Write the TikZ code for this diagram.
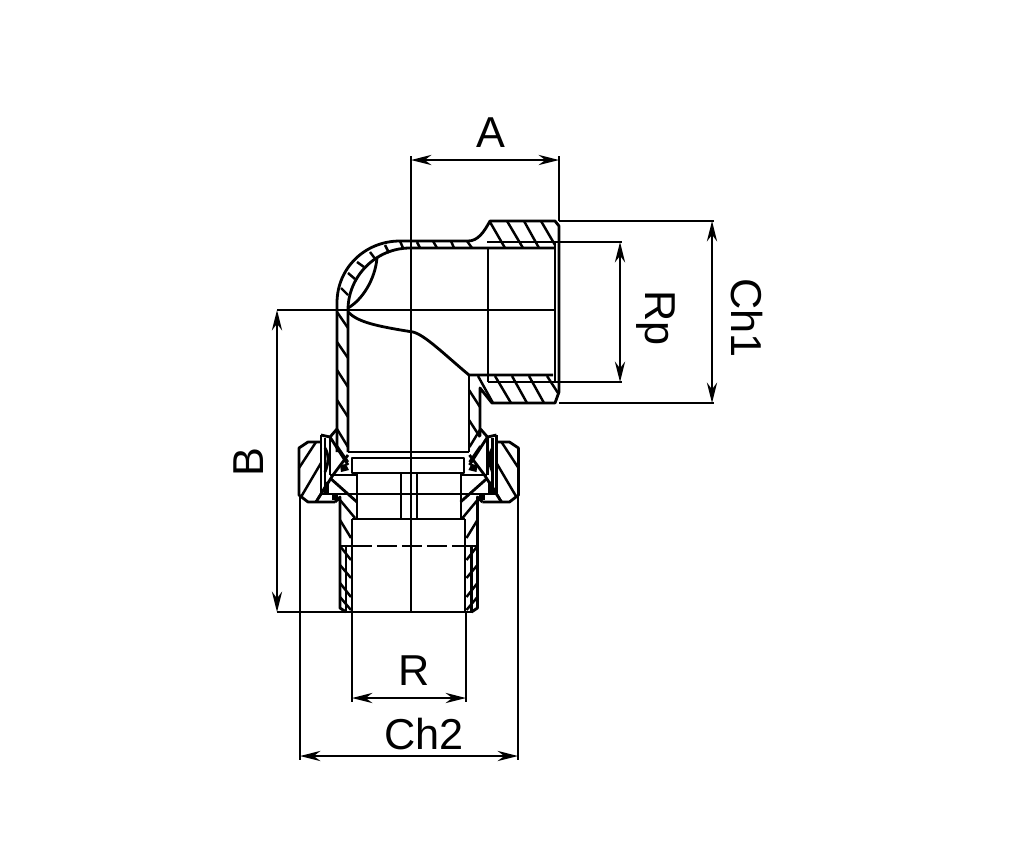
\documentclass[tikz,border=0pt]{standalone}
\usepackage{fontspec}
\setmainfont{Liberation Sans}
\usetikzlibrary{arrows.meta}
\tikzset{
  part/.style={line width=0.8pt, line join=round},
  hatch/.style={line width=0.7pt},
  dimline/.style={line width=0.62pt, {Stealth[length=5.8pt,width=2.9pt]}-{Stealth[length=5.8pt,width=2.9pt]}},
  extline/.style={line width=0.62pt},
  dimlabel/.style={font=\fontsize{12.3}{14}\selectfont, inner sep=0pt}
}
% one half of the union nut, the other half is its mirror image
\newcommand{\halfunion}{
  \draw[part] (321,442) -- (308,442) -- (299,448) -- (299,495) -- (308,502) -- (335,502);
  \draw[part] (321,435) -- (321,495);
  \draw[part] (325,438) -- (325,495);
  \draw[part] (321,435) -- (330,437) -- (337,429);
  \draw[part] (330,437) -- (330,475);
  \draw[part] (330,437) -- (348,465);
  \draw[part] (348,455) -- (333,475) -- (316,502);
  \draw[part] (330,475) -- (357,475);
  \draw[part] (330,478) -- (357,502);
  \draw[line width=1.2pt] (327,482) -- (327,495);
  \draw[part] (325,448) .. controls (329,455) and (329,462) .. (325,472);
  \fill (340,465) -- (346,464) -- (349,470) -- (341,472) -- cycle;
  \fill (332,495) rectangle (338,500);
  \draw[part] (335,502) -- (340,497) -- (340,608) -- (346,612);
  \draw[part] (346,546) -- (346,612);
  \draw[part] (340,546) -- (352,546);
  \foreach \xa/\ya/\xb/\yb in {299/468/316/442, 301/497/321/463, 316/502/328/482,
      337/429/348/447, 337/446/348/462, 340/500/355/518, 340/520/351/538,
      340/546/351/560, 340/565/351/578, 340/583/351/597, 340/597/351/610}
    \draw[hatch] (\xa,\ya) -- (\xb,\yb);
}
\begin{document}
\begin{tikzpicture}[x=0.01cm, y=-0.01cm]
  \useasboundingbox (0,0) rectangle (1024,863);
  % elbow body
  \draw[part] (337,452) -- (337,303) .. controls (337,268) and (365,241) .. (400,241) -- (468,241)
    .. controls (478,241) and (484,232) .. (490,221) -- (555,221) -- (559,226) -- (559,392) -- (555,403)
    -- (492,403) -- (480,388) -- (480,436);
  \draw[part] (348,452) -- (348,310) .. controls (348,276) and (376,248) .. (410,248) -- (555,248);
  \draw[part] (348,308) .. controls (362,300) and (375,280) .. (377,258);
  \draw[part] (348,312) .. controls (358,322) and (375,326) .. (413,332) .. controls (425,335) and (445,355) .. (469,375) -- (553,375);
  \draw[part] (469,375) -- (469,452);
  \draw[part] (488,248) -- (488,382);
  \draw[part] (555,243) -- (555,382);
  \foreach \xa/\ya/\xb/\yb in {400/241/403/248, 417/242/420/248, 433/241/437/248, 451/241/454/248, 467/241/472/248,
      385/245/389/253, 370/252/376/260, 357/262/364/267, 348/273/355/279, 341/288/348/295,
      337/312/348/328, 337/342/348/358, 337/370/348/387, 337/400/348/417,
      490/222/505/248, 507/221/523/248, 524/221/539/248, 541/221/555/245,
      478/376/493/403, 495/376/511/403, 512/376/527/403, 529/376/544/403, 547/376/558/393,
      469/390/480/407, 469/420/480/437}
    \draw[hatch] (\xa,\ya) -- (\xb,\yb);
  % union and male end
  \halfunion
  \begin{scope}[xshift=8.17cm, xscale=-1]
    \halfunion
  \end{scope}
  \draw[part] (348,452) -- (469,452);
  \draw[part] (352,458) rectangle (464,473);
  \draw[part] (357,473) rectangle (461,519);
  \draw[part] (321,494) -- (496,494);
  \draw[part] (401,473) -- (401,519);
  \draw[part] (417,473) -- (417,519);
  \draw[part] (352,519) -- (465,519);
  \draw[part] (352,519) -- (352,612);
  \draw[part] (465,519) -- (465,612);
  \draw[part, dash pattern=on 5.7pt off 1.4pt] (352,546) -- (465,546);
  % dimensions
  \coordinate (aL) at (411,160);
  \coordinate (aR) at (559,160);
  \coordinate (ch1T) at (712,221);
  \coordinate (ch1B) at (712,403);
  \coordinate (rpT) at (620,242);
  \coordinate (rpB) at (620,382);
  \coordinate (bT) at (277,310);
  \coordinate (bB) at (277,612);
  \coordinate (rL) at (352,698);
  \coordinate (rR) at (466,698);
  \coordinate (ch2L) at (300,756);
  \coordinate (ch2R) at (518,756);
  \coordinate (ctrB) at (411,612);
  \coordinate (aE) at (559,221);
  \coordinate (ch1E) at (559,403);
  \coordinate (rpE) at (487,242);
  \coordinate (rpF) at (488,382);
  \coordinate (bE) at (555,310);
  \coordinate (bF) at (472,612);
  \coordinate (rA) at (352,612);
  \coordinate (rB) at (466,612);
  \coordinate (ch2A) at (300,495);
  \coordinate (ch2B) at (518,495);
  \draw[extline] (aL) ++(0,-4) -- (ctrB);
  \draw[extline] (aR) ++(0,-4) -- (aE);
  \draw[extline] (aE) -- (ch1T) -- ++(2,0);
  \draw[extline] (ch1E) -- (ch1B) -- ++(2,0);
  \draw[extline] (rpE) -- (rpT) -- ++(2,0);
  \draw[extline] (rpF) -- (rpB) -- ++(2,0);
  \draw[extline] (bE) -- (bT);
  \draw[extline] (bF) -- (bB);
  \draw[extline] (rA) -- (rL) -- ++(0,4);
  \draw[extline] (rB) -- (rR) -- ++(0,4);
  \draw[extline] (ch2A) -- (ch2L) -- ++(0,4);
  \draw[extline] (ch2B) -- (ch2R) -- ++(0,4);
  \draw[dimline] (aL) -- (aR);
  \draw[dimline] (ch1T) -- (ch1B);
  \draw[dimline] (rpT) -- (rpB);
  \draw[dimline] (bT) -- (bB);
  \draw[dimline] (rL) -- (rR);
  \draw[dimline] (ch2L) -- (ch2R);
  \node[dimlabel] (a) at (491,133) {A};
  \node[dimlabel, rotate=90] (b) at (249,462) {B};
  \node[dimlabel, rotate=-90] (rp) at (656,318) {Rp};
  \node[dimlabel, rotate=-90] (ch1) at (747,318) {Ch1};
  \node[dimlabel] (r) at (414,671) {R};
  \node[dimlabel] (ch2) at (424,734) {Ch2};
\end{tikzpicture}
\end{document}
